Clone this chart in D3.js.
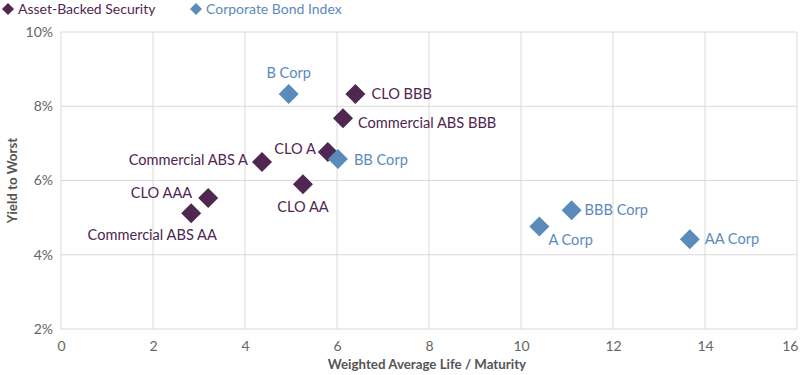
<!DOCTYPE html>
<html>
<head>
<meta charset="utf-8">
<script src="https://cdn.jsdelivr.net/npm/d3@7"></script>
<style>
  body { margin: 0; background: #fff; }
  text { font-family: Lato, "Open Sans", sans-serif; }
</style>
</head>
<body>
<svg id="chart" width="800" height="375"></svg>
<script>
// series
var seriesNames = ["Asset-Backed Security", "Corporate Bond Index"];
var seriesColors = ["#4f2750", "#5b8bbb"];

// points: label, series index, WAL / maturity, yield to worst (%)
var labels = ["B Corp", "CLO BBB", "Commercial ABS BBB", "CLO A", "BB Corp", "Commercial ABS A",
              "CLO AA", "CLO AAA", "Commercial ABS AA", "A Corp", "BBB Corp", "AA Corp"];
var series = [1, 0, 0, 0, 1, 0, 0, 0, 0, 1, 1, 1];
var life = [4.95, 6.4, 6.13, 5.8, 6.02, 4.37, 5.26, 3.2, 2.83, 10.4, 11.1, 13.67];
var ytw = [8.33, 8.33, 7.68, 6.77, 6.58, 6.5, 5.9, 5.53, 5.12, 4.76, 5.2, 4.42];

var xTicks = [0, 2, 4, 6, 8, 10, 12, 14, 16];
var yTicks = [2, 4, 6, 8, 10];

// where each label sits relative to its marker
var labelPos = {
  "B Corp": [0, -21, "middle"],
  "CLO BBB": [16, 0, "start"],
  "Commercial ABS BBB": [15, 5, "start"],
  "CLO A": [-12, -3, "end"],
  "BB Corp": [16, 1, "start"],
  "Commercial ABS A": [-14, -2, "end"],
  "CLO AA": [0, 23, "middle"],
  "CLO AAA": [-16, -5, "end"],
  "Commercial ABS AA": [-39, 22, "middle"],
  "A Corp": [9, 13, "start"],
  "BBB Corp": [13, 0, "start"],
  "AA Corp": [15, 0, "start"]
};

var svg = d3.select("#chart");
var margin = {left: 61, right: 3, top: 32, bottom: 46};
var width = 800 - margin.left - margin.right;
var height = 375 - margin.top - margin.bottom;

var x = d3.scaleLinear().domain([0, 16]).range([margin.left, margin.left + width]);
var y = d3.scaleLinear().domain([2, 10]).range([margin.top + height, margin.top]);

// grid
svg.append("g")
  .selectAll("line")
  .data(xTicks)
  .enter()
  .append("line")
    .attr("x1", function(d){ return x(d) })
    .attr("x2", function(d){ return x(d) })
    .attr("y1", y(10))
    .attr("y2", y(2))
    .attr("stroke", "#d9d9d9")
    .attr("stroke-width", 1);

svg.append("g")
  .selectAll("line")
  .data(yTicks)
  .enter()
  .append("line")
    .attr("x1", x(0))
    .attr("x2", x(16))
    .attr("y1", function(d){ return y(d) })
    .attr("y2", function(d){ return y(d) })
    .attr("stroke", "#d9d9d9")
    .attr("stroke-width", 1);

// axes
var xAxis = svg.append("g")
  .attr("transform", "translate(0," + y(2) + ")")
  .call(d3.axisBottom(x).tickValues(xTicks).tickSize(0).tickPadding(12).tickFormat(d3.format("d")));
var yAxis = svg.append("g")
  .attr("transform", "translate(" + x(0) + ",0)")
  .call(d3.axisLeft(y).tickValues(yTicks).tickSize(0).tickPadding(8).tickFormat(function(d){ return d + "%" }));
[xAxis, yAxis].forEach(function(a) {
  a.select(".domain").remove();
  a.selectAll("text").attr("fill", "#666").style("font-size", "14px").style("font-family", "Lato, sans-serif");
});
// last x tick label sits flush against the right edge
xAxis.selectAll(".tick text").filter(function(d){ return d === 16 }).attr("text-anchor", "end").attr("dx", 1);

// axis titles
svg.append("text")
  .attr("x", x(8) - 2)
  .attr("y", 369)
  .attr("text-anchor", "middle")
  .attr("fill", "#555")
  .style("font-size", "13.3px")
  .style("font-weight", "bold")
  .text("Weighted Average Life / Maturity");

svg.append("text")
  .attr("transform", "translate(17," + y(6) + ") rotate(-90)")
  .attr("text-anchor", "middle")
  .attr("fill", "#555")
  .style("font-size", "13.3px")
  .style("font-weight", "bold")
  .text("Yield to Worst");

// markers
var diamond = d3.symbol().type(d3.symbolSquare).size(200);
var idx = d3.range(labels.length);

svg.append("g")
  .selectAll("path")
  .data(idx)
  .enter()
  .append("path")
    .attr("d", diamond)
    .attr("transform", function(i){ return "translate(" + x(life[i]) + "," + y(ytw[i]) + ") rotate(45)" })
    .attr("fill", function(i){ return seriesColors[series[i]] });

svg.append("g")
  .selectAll("text")
  .data(idx)
  .enter()
  .append("text")
    .attr("x", function(i){ return x(life[i]) + labelPos[labels[i]][0] })
    .attr("y", function(i){ return y(ytw[i]) + labelPos[labels[i]][1] })
    .attr("dy", "0.35em")
    .attr("text-anchor", function(i){ return labelPos[labels[i]][2] })
    .attr("fill", function(i){ return seriesColors[series[i]] })
    .style("font-size", "14.6px")
    .text(function(i){ return labels[i] });

// legend
var legendX = [8, 196];
var legend = svg.append("g")
  .selectAll("g")
  .data(seriesNames)
  .enter()
  .append("g")
    .attr("transform", function(d, i){ return "translate(" + legendX[i] + ",9)" });
legend.append("path")
  .attr("d", d3.symbol().type(d3.symbolSquare).size(72))
  .attr("transform", "rotate(45)")
  .attr("fill", function(d, i){ return seriesColors[i] });
legend.append("text")
  .attr("x", 10)
  .attr("dy", "0.35em")
  .attr("fill", function(d, i){ return seriesColors[i] })
  .style("font-size", "14px")
  .text(function(d){ return d });
</script>
</body>
</html>
